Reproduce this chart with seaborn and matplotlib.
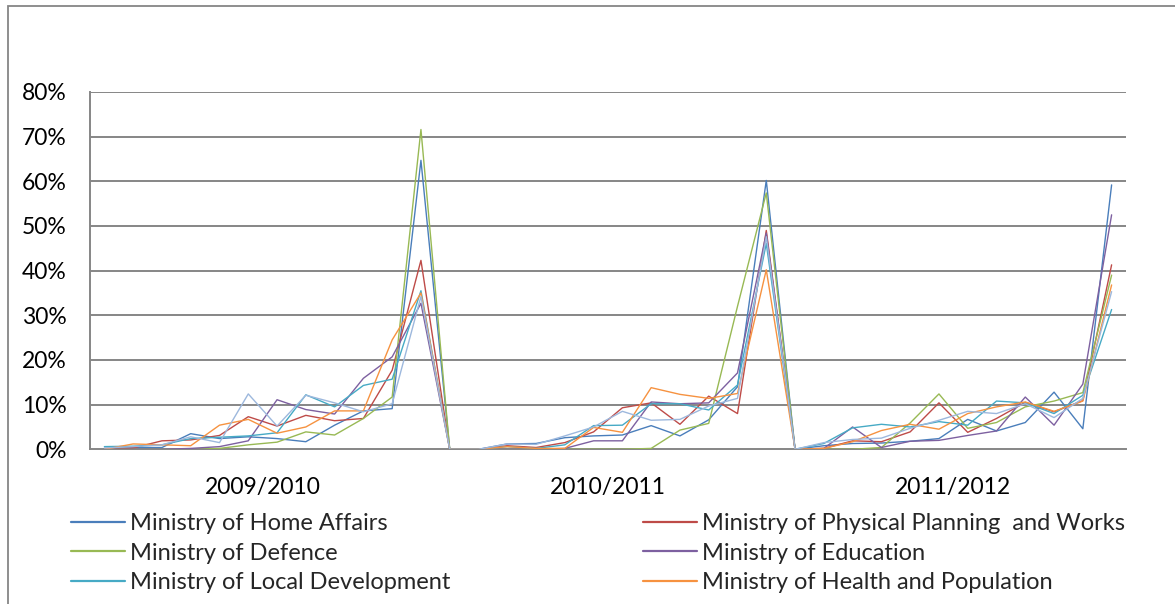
import matplotlib
matplotlib.use("Agg")
import matplotlib.pyplot as plt
from matplotlib.lines import Line2D
from matplotlib.patches import Rectangle
from matplotlib.ticker import PercentFormatter
import numpy as np
import pandas as pd
import seaborn as sns

# ---- data (share of annual expenditure by month, 3 fiscal years x 12 months) ----
years = ["2009/2010", "2010/2011", "2011/2012"]
ministries = [
    "Ministry of Home Affairs",
    "Ministry of Physical Planning  and Works",
    "Ministry of Defence",
    "Ministry of Education",
    "Ministry of Local Development",
    "Ministry of Health and Population",
    "Other ministry",
]

home_affairs = [0.2, 0.4, 0.4, 3.5, 2.4, 2.8, 2.4, 1.7, 5.4, 8.6, 9.1, 64.7,
                0.0, 0.0, 1.2, 1.3, 2.6, 3.0, 3.2, 5.3, 3.0, 6.6, 14.0, 60.2,
                0.0, 0.8, 1.3, 1.4, 1.8, 2.4, 6.7, 4.1, 6.0, 12.8, 4.6, 59.2]
physical_planning = [0.0, 0.3, 1.9, 2.1, 3.1, 7.3, 5.2, 7.6, 6.4, 6.9, 17.7, 42.3,
                     0.0, 0.0, 0.8, 0.4, 1.5, 3.9, 9.3, 10.4, 5.6, 11.9, 8.0, 49.0,
                     0.0, 0.2, 1.9, 1.7, 3.9, 10.4, 3.8, 6.9, 10.5, 8.4, 10.9, 41.3]
defence = [0.0, 0.0, 0.0, 0.0, 0.2, 1.0, 1.6, 3.9, 3.2, 6.9, 11.7, 71.6,
           0.0, 0.0, 0.0, 0.0, 0.0, 0.0, 0.0, 0.2, 4.3, 5.8, 32.0, 57.4,
           0.0, 0.0, 0.0, 0.4, 5.9, 12.4, 4.7, 6.0, 9.5, 10.8, 12.7, 39.0]
education = [0.0, 0.0, 0.0, 0.2, 0.6, 1.9, 11.1, 8.9, 7.9, 15.9, 20.7, 32.7,
             0.0, 0.0, 0.0, 0.0, 0.2, 1.9, 1.9, 10.6, 10.2, 10.4, 17.1, 48.4,
             0.0, 0.2, 5.0, 0.4, 1.8, 2.0, 3.1, 4.1, 11.7, 5.4, 14.6, 52.5]
local_development = [0.6, 0.7, 1.0, 2.4, 2.7, 3.0, 3.7, 12.2, 9.5, 14.3, 15.7, 35.5,
                     0.0, 0.0, 0.6, 0.2, 1.0, 5.3, 5.4, 10.2, 10.2, 8.8, 14.4, 46.1,
                     0.0, 1.3, 4.8, 5.6, 5.0, 6.2, 5.4, 10.8, 10.4, 8.0, 12.1, 31.3]
health_population = [0.0, 1.2, 1.0, 0.8, 5.4, 6.7, 3.6, 5.0, 8.6, 8.6, 24.5, 35.0,
                     0.0, 0.0, 0.6, 0.2, 0.2, 4.9, 3.8, 13.8, 12.3, 11.4, 12.5, 40.2,
                     0.0, 0.2, 1.7, 4.2, 5.6, 4.5, 8.0, 9.5, 10.6, 8.5, 10.8, 36.8]
other_ministry = [0.3, 0.6, 1.0, 2.8, 1.5, 12.4, 5.2, 12.1, 10.4, 8.4, 10.2, 34.2,
                  0.0, 0.0, 1.2, 1.1, 3.0, 5.0, 8.5, 6.5, 6.7, 9.7, 11.4, 47.6,
                  0.0, 1.5, 2.2, 2.5, 4.7, 6.5, 8.5, 8.0, 10.2, 7.1, 11.4, 35.3]

series = [home_affairs, physical_planning, defence, education,
          local_development, health_population, other_ministry]
colors = ["#4A7EBB", "#BE4B48", "#98B954", "#7D60A0", "#46AAC5", "#F69240", "#9DB8DD"]

months_per_year = 12
n_points = months_per_year * len(years)

rows = []
for name, vals in zip(ministries, series):
    for i, v in enumerate(vals):
        rows.append({"idx": i, "value": v / 100.0, "ministry": name})
df = pd.DataFrame(rows)

# ---- style ----
sns.set_style("white")
plt.rcParams["font.family"] = ["Lato", "DejaVu Sans"]
FS_TICK = 16.5
FS_LEG = 17

W, H = 1175, 604
fig = plt.figure(figsize=(W / 100, H / 100), dpi=100)
ax = fig.add_axes([90 / W, 1 - 449.3 / H, (1126 - 90) / W, (449.3 - 92) / H])

grid_c = "#868686"
for yv in np.arange(0.1, 0.81, 0.1):
    ax.axhline(yv, color=grid_c, lw=1.4, zorder=0)

palette = dict(zip(ministries, colors))
sns.lineplot(data=df, x="idx", y="value", hue="ministry", hue_order=ministries,
             palette=palette, linewidth=1.0, estimator=None, legend=False,
             ax=ax, zorder=3)

ax.set_xlim(-0.5, n_points - 0.5)
ax.set_ylim(0, 0.8)
ax.set_yticks(np.arange(0, 0.81, 0.1))
ax.yaxis.set_major_formatter(PercentFormatter(1.0, decimals=0))
centers = [months_per_year * k + (months_per_year - 1) / 2 for k in range(len(years))]
ax.set_xticks(centers)
ax.set_xticklabels(years)
ax.tick_params(axis="y", length=0, pad=17, labelsize=FS_TICK, labelcolor="#000000")
ax.tick_params(axis="x", length=0, pad=20, labelsize=FS_TICK, labelcolor="#000000")
ax.set_xlabel("")
ax.set_ylabel("")

for s in ["top", "right"]:
    ax.spines[s].set_visible(False)
for s in ["left", "bottom"]:
    ax.spines[s].set_color(grid_c)
    ax.spines[s].set_linewidth(1.4)

# ---- legend (two columns, three rows) ----
def handle(c):
    return Line2D([0], [0], color=c, lw=1.6)

left_names = [ministries[0], ministries[2], ministries[4]]
left_cols = [colors[0], colors[2], colors[4]]
right_names = [ministries[1], ministries[3], ministries[5]]
right_cols = [colors[1], colors[3], colors[5]]

common = dict(frameon=False, fontsize=FS_LEG, handlelength=2.3, handletextpad=0.2,
              labelspacing=0.37, borderpad=0, borderaxespad=0, loc="center left")
leg1 = fig.legend([handle(c) for c in left_cols], left_names,
                  bbox_to_anchor=(71 / W, 1 - 553 / H), **common)
leg2 = fig.legend([handle(c) for c in right_cols], right_names,
                  bbox_to_anchor=(643 / W, 1 - 553 / H), **common)

# outer chart border (right and bottom edges are outside the picture)
fig.patches.append(Rectangle((8 / W, -0.2), 1.5, 1.2 - 6 / H, transform=fig.transFigure,
                             fill=False, edgecolor=grid_c, lw=1.3))

fig.savefig("out.png", dpi=100, facecolor="white")
